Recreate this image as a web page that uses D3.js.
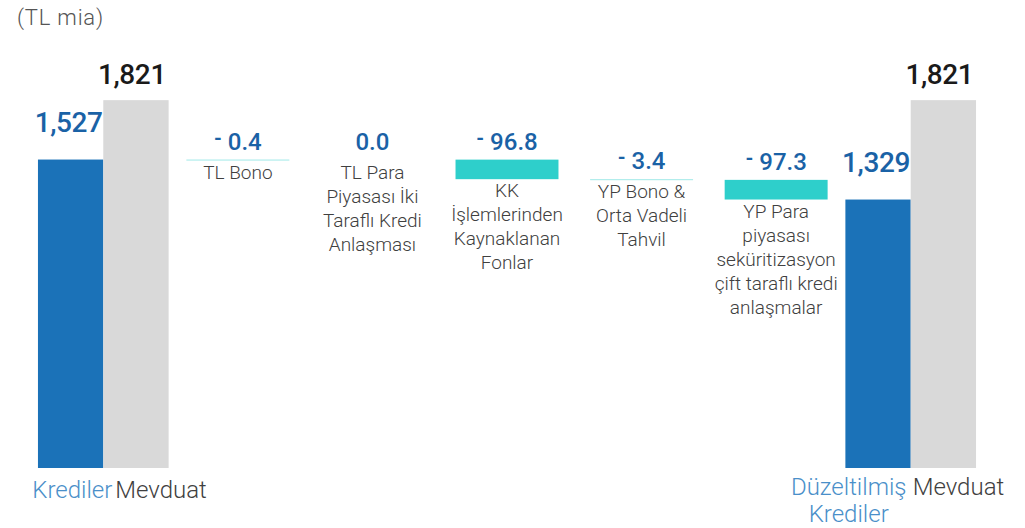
<!DOCTYPE html>
<html>
<head>
<meta charset="utf-8">
<script src="https://cdn.jsdelivr.net/npm/d3@7"></script>
<style>
  html, body { margin: 0; padding: 0; background: #fff; }
  svg { display: block; font-family: Roboto, "Noto Sans", sans-serif; }
</style>
</head>
<body>
<svg id="chart" width="1025" height="528"></svg>
<script>
// Loans vs deposits bridge (TL billion)
const columns = ["start", "s1", "s2", "s3", "s4", "s5", "end"];
const pairLoanLabels = [["Krediler"], ["Düzeltilmiş", "Krediler"]];
const pairDepositLabel = "Mevduat";
const loansStart = 1527;
const loansAdjusted = 1329;
const deposits = [1821, 1821];
const stepValues = [-0.4, 0.0, -96.8, -3.4, -97.3];
const stepLabels = [
  ["TL Bono"],
  ["TL Para", "Piyasası İki", "Taraflı Kredi", "Anlaşması"],
  ["KK", "İşlemlerinden", "Kaynaklanan", "Fonlar"],
  ["YP Bono &", "Orta Vadeli", "Tahvil"],
  ["YP Para", "piyasası", "seküritizasyon", "çift taraflı kredi", "anlaşmalar"]
];
const unitLabel = "(TL mia)";

const svg = d3.select("#chart");
const baseY = 468;

const x = d3.scaleBand().domain(columns).range([36, 978]).padding(0);
const y = d3.scaleLinear().domain([0, 1900]).range([baseY, baseY - 1900 * 0.202]);
const inner = d3.scaleBand().domain(["loan", "dep"]).range([0, x.bandwidth()]).paddingOuter(0.03);

const BLUE = "#1b72b8", GREY = "#d9d9d9", TEAL = "#2ecfcb";
const VAL_BLUE = "#1a62a6", VAL_DARK = "#1a1a1a";
const fmtBig = d3.format(",");

// unit caption
svg.append("text").attr("x", 17).attr("y", 25)
  .attr("font-size", 22).attr("font-weight", 300).attr("letter-spacing", 0.8)
  .attr("fill", "#555").text(unitLabel);

// loan / deposit pairs
const pairs = [
  { col: "start", loan: loansStart, dep: deposits[0], labels: pairLoanLabels[0] },
  { col: "end", loan: loansAdjusted, dep: deposits[1], labels: pairLoanLabels[1] }
];

pairs.forEach((p, i) => {
  const x0 = x(p.col);
  const lx = x0 + inner("loan"), dx = x0 + inner("dep"), w = inner.bandwidth();
  svg.append("rect").attr("x", lx).attr("y", y(p.loan)).attr("width", w)
    .attr("height", y(0) - y(p.loan)).attr("fill", BLUE);
  svg.append("rect").attr("x", dx).attr("y", y(p.dep)).attr("width", w)
    .attr("height", y(0) - y(p.dep)).attr("fill", GREY);

  svg.append("text").attr("x", lx + w / 2 - 2).attr("y", y(p.loan) - 28)
    .attr("text-anchor", "middle").attr("font-size", 28).attr("font-weight", 500)
    .attr("letter-spacing", -0.4).attr("fill", VAL_BLUE).text(fmtBig(p.loan));
  svg.append("text").attr("x", dx + w / 2 - 4).attr("y", y(p.dep) - 16)
    .attr("text-anchor", "middle").attr("font-size", 28).attr("font-weight", 500)
    .attr("letter-spacing", -0.4).attr("fill", VAL_DARK).text(fmtBig(p.dep));

  // category captions under the pair
  const split = dx;
  const lt = svg.append("text").attr("font-size", 24).attr("font-weight", 300)
    .attr("fill", "#4a8fc9");
  if (i === 0) {
    lt.attr("text-anchor", "end").attr("x", split + 9).attr("y", 498)
      .text(p.labels[0]);
    svg.append("text").attr("x", split + 12).attr("y", 498)
      .attr("font-size", 24).attr("font-weight", 300).attr("fill", "#404040")
      .text(pairDepositLabel);
  } else {
    lt.attr("text-anchor", "middle");
    p.labels.forEach((s, j) => {
      lt.append("tspan").attr("x", split - 62).attr("y", 495 + j * 27).text(s);
    });
    svg.append("text").attr("x", split + 2).attr("y", 495)
      .attr("font-size", 24).attr("font-weight", 300).attr("fill", "#404040")
      .text(pairDepositLabel);
  }
});

// waterfall steps
let level = loansStart;
const barW = x.bandwidth() * 0.765;
stepValues.forEach((v, i) => {
  const col = columns[i + 1];
  const cx = x(col) + x.bandwidth() / 2;
  const from = level, to = level + v;
  level = to;
  const top = y(Math.max(from, to));
  const bottom = y(Math.min(from, to));
  const h = bottom - top;
  if (v !== 0) {
    svg.append("rect").attr("x", cx - barW / 2).attr("y", top)
      .attr("width", barW).attr("height", Math.max(1, h))
      .attr("fill", TEAL).attr("fill-opacity", h < 1 ? 0.45 : 1);
  }

  // value label
  const t = svg.append("text").attr("x", cx).attr("y", top - 10)
    .attr("text-anchor", "middle").attr("font-size", 24).attr("font-weight", 500)
    .attr("fill", VAL_BLUE);
  if (v < 0) {
    t.append("tspan").attr("font-size", 20).attr("font-weight", 700).attr("dy", -5).text("-");
    t.append("tspan").attr("dy", 5).text("\u00a0" + Math.abs(v).toFixed(1));
  } else {
    t.text(v.toFixed(1));
  }

  // category caption
  const c = svg.append("text").attr("text-anchor", "middle")
    .attr("font-size", 19).attr("font-weight", 300).attr("fill", "#404040");
  stepLabels[i].forEach((s, j) => {
    c.append("tspan").attr("x", cx).attr("y", Math.max(bottom, top + 1) + 18 + j * 24).text(s);
  });
});
</script>
</body>
</html>
